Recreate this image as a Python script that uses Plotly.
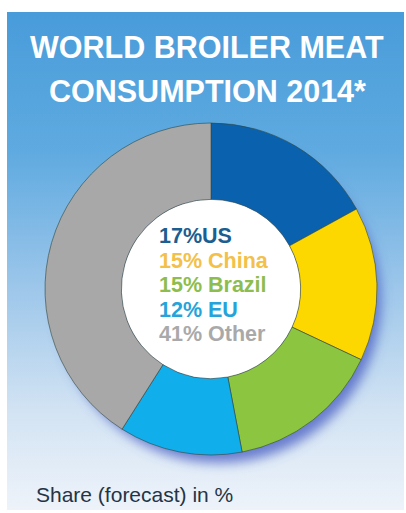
import base64
import plotly.graph_objects as go

# ---- data ----
regions = ["US", "China", "Brazil", "EU", "Other"]
shares = [17, 15, 15, 12, 41]
slice_colors = ["#0A62AE", "#FCD800", "#8CC540", "#10AEEA", "#A8A8A8"]
label_colors = ["#1B5E91", "#F3C04A", "#8DBD4E", "#26A4DA", "#A9A9A9"]
title_lines = ["WORLD BROILER MEAT", "CONSUMPTION 2014*"]
footnote = "Share (forecast) in %"

W, H = 406, 513
cx, cy, R = 211, 289, 166
HOLE = 0.54

fig = go.Figure()

fig.add_trace(go.Pie(
    labels=regions, values=shares, sort=False, direction="clockwise", rotation=0,
    hole=HOLE, textinfo="none", hoverinfo="label+percent",
    marker=dict(colors=slice_colors, line=dict(color="rgba(50,70,60,0.75)", width=0.8)),
    domain=dict(x=[(cx - R) / W, (cx + R) / W], y=[1 - (cy + R) / H, 1 - (cy - R) / H]),
    showlegend=False,
))

# gradient panel, soft shadow and white hole as an inline SVG background image
px0, px1, py0, py1 = 7, 404, 12, 510
svg = (
    '<svg xmlns="http://www.w3.org/2000/svg" width="{w}" height="{h}">'
    '<defs><linearGradient id="g" x1="0" y1="0" x2="0" y2="1">'
    '<stop offset="0" stop-color="#489CDA"/>'
    '<stop offset="0.28" stop-color="#5FAAE0"/>'
    '<stop offset="0.55" stop-color="#9CC6EA"/>'
    '<stop offset="0.8" stop-color="#D2E3F3"/>'
    '<stop offset="1" stop-color="#EEF3FA"/>'
    '</linearGradient>'
    '<filter id="b" x="-20%" y="-20%" width="140%" height="140%"><feGaussianBlur stdDeviation="6"/></filter>'
    '</defs>'
    '<rect x="0" y="0" width="{w}" height="{h}" fill="url(#g)"/>'
    '<circle cx="{scx}" cy="{scy}" r="{sr}" fill="#4E62C4" fill-opacity="0.8" filter="url(#b)"/>'
    '<circle cx="{hcx}" cy="{hcy}" r="{hr}" fill="#FFFFFF"/>'
    '</svg>'
).format(w=px1 - px0, h=py1 - py0, scx=cx - px0 + 8, scy=cy - py0 + 12, sr=R - 4,
         hcx=cx - px0, hcy=cy - py0, hr=R * HOLE)
src = "data:image/svg+xml;base64," + base64.b64encode(svg.encode()).decode()

annotations = []
for i, t in enumerate(title_lines):
    annotations.append(dict(x=W / 2 + 4, y=47 + 44 * i, xref="x", yref="y", text="<b>%s</b>" % t,
                            showarrow=False, xanchor="center", yanchor="middle",
                            font=dict(family="Liberation Sans, Arial", size=30.5, color="white")))

label_texts = []
for r, s in zip(regions, shares):
    sep = "" if r == "US" else " "
    label_texts.append("%d%%%s%s" % (s, sep, r))
for i, (t, c) in enumerate(zip(label_texts, label_colors)):
    annotations.append(dict(x=157, y=236 + 24.5 * i, xref="x", yref="y", text="<b>%s</b>" % t,
                            showarrow=False, xanchor="left", yanchor="middle",
                            font=dict(family="Liberation Sans, Arial", size=21.5, color=c)))

annotations.append(dict(x=34, y=494, xref="x", yref="y", text=footnote, showarrow=False,
                        xanchor="left", yanchor="middle",
                        font=dict(family="Liberation Sans, Arial", size=21, color="#243444")))

fig.update_layout(
    width=W, height=H, margin=dict(l=0, r=0, t=0, b=0),
    paper_bgcolor="white", plot_bgcolor="rgba(0,0,0,0)",
    xaxis=dict(range=[0, W], visible=False, fixedrange=True),
    yaxis=dict(range=[H, 0], visible=False, fixedrange=True),
    images=[dict(source=src, xref="x", yref="y", x=px0, y=py0, sizex=px1 - px0, sizey=py1 - py0,
                 xanchor="left", yanchor="top", sizing="stretch", layer="below")],
    annotations=annotations,
)

fig.write_html("out.html", config={"displayModeBar": False},
               post_script="document.body.style.margin='0';document.body.style.overflow='hidden';")
